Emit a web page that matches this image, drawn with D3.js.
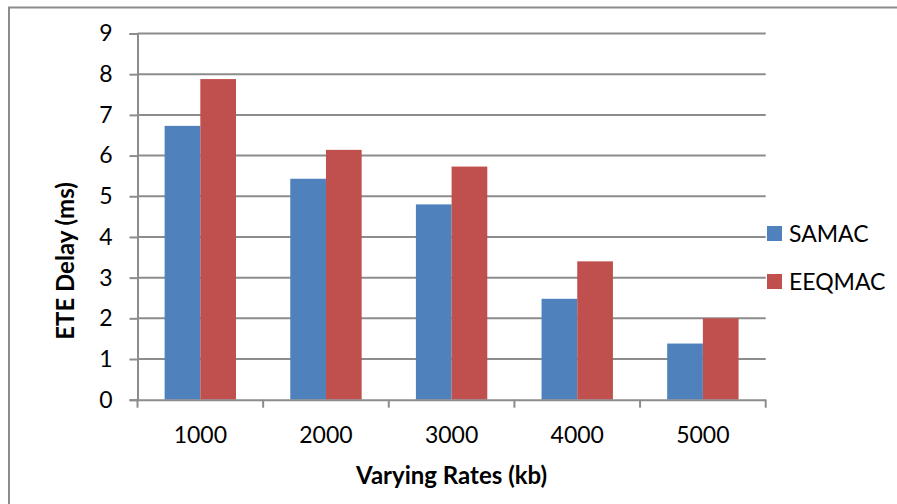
<!DOCTYPE html>
<html>
<head>
<meta charset="utf-8">
<script src="https://cdn.jsdelivr.net/npm/d3@7"></script>
<style>
  html, body { margin: 0; padding: 0; background: #fff; }
  svg { display: block; font-family: Lato, "Open Sans", sans-serif; }
</style>
</head>
<body>
<svg id="chart" width="897" height="504"></svg>
<script>
// ETE delay per varying rate, two MAC protocols
const categories = ["1000", "2000", "3000", "4000", "5000"];
const seriesNames = ["SAMAC", "EEQMAC"];
const samac = [6.73, 5.43, 4.80, 2.48, 1.38];
const eeqmac = [7.88, 6.14, 5.73, 3.40, 2.00];
const yTicks = [0, 1, 2, 3, 4, 5, 6, 7, 8, 9];
const colors = ["#4F81BD", "#C0504D"];

const seriesValues = [samac, eeqmac];
const rows = categories.map((c, i) => ({
  cat: c,
  vals: seriesNames.map((s, j) => ({ series: s, value: seriesValues[j][i], color: colors[j] }))
}));

const svg = d3.select("#chart");
const grid = "#8c8c8c";

// outer chart frame
svg.append("rect")
  .attr("x", 9).attr("y", 7.5)
  .attr("width", 1000).attr("height", 1000)
  .attr("fill", "none").attr("stroke", grid).attr("stroke-width", 2);

const plot = { left: 137.5, right: 765.7, top: 33.5, bottom: 399.7 };

const x = d3.scaleBand().domain(categories).range([plot.left, plot.right]).padding(0);
const xs = d3.scaleBand().domain(seriesNames).range([0, x.bandwidth()])
  .paddingInner(0).paddingOuter(0.76);
const y = d3.scaleLinear().domain([0, 9]).range([plot.bottom, plot.top]);

// horizontal gridlines
svg.append("g").selectAll("line").data(yTicks.filter(d => d > 0)).join("line")
  .attr("x1", plot.left).attr("x2", plot.right)
  .attr("y1", d => y(d)).attr("y2", d => y(d))
  .attr("stroke", grid).attr("stroke-width", 2);

// bars
const groups = svg.append("g").selectAll("g").data(rows).join("g")
  .attr("transform", d => `translate(${x(d.cat)},0)`);
groups.selectAll("rect").data(d => d.vals).join("rect")
  .attr("x", d => xs(d.series))
  .attr("width", xs.bandwidth())
  .attr("y", d => y(d.value))
  .attr("height", d => y(0) - y(d.value))
  .attr("fill", d => d.color);

// y axis
const yAxis = svg.append("g")
  .attr("transform", `translate(${plot.left},0)`)
  .call(d3.axisLeft(y).tickValues(yTicks).tickFormat(d3.format("d")).tickSize(8).tickPadding(17));
yAxis.select(".domain").attr("stroke", grid).attr("stroke-width", 2);
yAxis.selectAll(".tick line").attr("stroke", grid).attr("stroke-width", 2);
yAxis.selectAll(".tick text")
  .attr("font-size", 23).attr("fill", "#000")
  .attr("font-family", "Lato, 'Open Sans', sans-serif");

// x axis: baseline, boundary ticks and centred labels
const xAxis = svg.append("g")
  .attr("transform", `translate(0,${plot.bottom})`)
  .call(d3.axisBottom(x).tickSize(0).tickPadding(27));
xAxis.select(".domain").attr("stroke", grid).attr("stroke-width", 2);
xAxis.selectAll(".tick text")
  .attr("font-size", 23).attr("fill", "#000")
  .attr("font-family", "Lato, 'Open Sans', sans-serif");
const bounds = categories.map(c => x(c)).concat([x(categories[categories.length - 1]) + x.bandwidth()]);
xAxis.append("g").selectAll("line").data(bounds).join("line")
  .attr("x1", d => d).attr("x2", d => d)
  .attr("y1", 0).attr("y2", 8)
  .attr("stroke", grid).attr("stroke-width", 2);

// axis titles
svg.append("text")
  .attr("x", (plot.left + plot.right) / 2).attr("y", 484)
  .attr("text-anchor", "middle")
  .attr("font-size", 24).attr("font-weight", "bold")
  .text("Varying Rates (kb)");

svg.append("text")
  .attr("transform", "translate(74,261) rotate(-90)")
  .attr("text-anchor", "middle")
  .attr("font-size", 24).attr("font-weight", "bold")
  .text("ETE Delay (ms)");

// legend
const legend = svg.append("g").selectAll("g").data(seriesNames).join("g")
  .attr("transform", (d, i) => `translate(767,${226 + i * 48})`);
legend.append("rect")
  .attr("width", 15).attr("height", 15)
  .attr("fill", (d, i) => colors[i]);
legend.append("text")
  .attr("x", 22).attr("y", 15.5)
  .attr("font-size", 23)
  .text(d => d);
</script>
</body>
</html>
